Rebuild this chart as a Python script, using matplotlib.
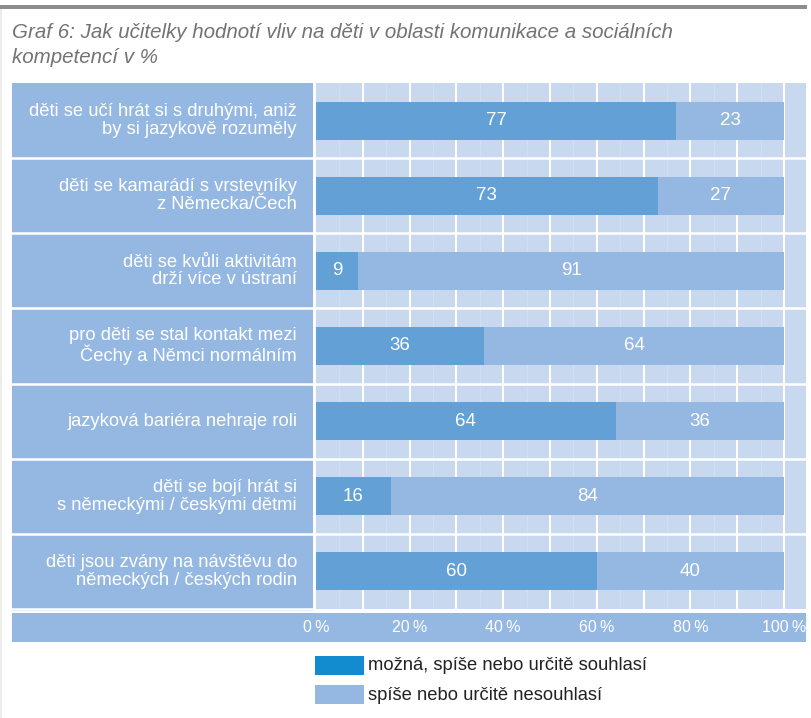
import matplotlib
matplotlib.use('Agg')
import matplotlib.pyplot as plt
import matplotlib.patches as patches
from matplotlib.transforms import blended_transform_factory
import numpy as np

plt.rcParams['font.family'] = ['Liberation Sans', 'DejaVu Sans']

title = ('Graf 6: Jak učitelky hodnotí vliv na děti v oblasti komunikace a sociálních\n'
         'kompetencí v %')
categories = [
    'děti se učí hrát si s druhými, aniž\nby si jazykově rozuměly',
    'děti se kamarádí s vrstevníky\nz Německa/Čech',
    'děti se kvůli aktivitám\ndrží více v ústraní',
    'pro děti se stal kontakt mezi\nČechy a Němci normálním',
    'jazyková bariéra nehraje roli',
    'děti se bojí hrát si\ns německými / českými dětmi',
    'děti jsou zvány na návštěvu do\nněmeckých / českých rodin',
]
agree = [77, 73, 9, 36, 64, 16, 60]
disagree = [23, 27, 91, 64, 36, 84, 40]
ticks = [0, 20, 40, 60, 80, 100]
tick_labels = ['0\u2009%', '20\u2009%', '40\u2009%', '60\u2009%', '80\u2009%', '100\u2009%']
legend_labels = ['možná, spíše nebo určitě souhlasí', 'spíše nebo určitě nesouhlasí']

DARK = '#62a0d6'
LIGHT = '#95b8e3'
BG = '#c8d8ef'
LEG_DARK = '#128bcf'

W, H = 812, 718
fig = plt.figure(figsize=(W / 100, H / 100), dpi=100)


def box(x0, y0, x1, y1):
    # pixel box (top-left origin) -> figure fraction rect
    return [x0 / W, 1 - y1 / H, (x1 - x0) / W, (y1 - y0) / H]


def fig_rect(x0, y0, x1, y1, color, z=0):
    r = patches.Rectangle((x0 / W, 1 - y1 / H), (x1 - x0) / W, (y1 - y0) / H,
                          transform=fig.transFigure, color=color, zorder=z, lw=0)
    fig.add_artist(r)


# frame lines at top and left
fig_rect(0, 5.5, 807, 8.5, '#8c8c8c')
fig_rect(0, 9, 2.5, H, '#ececec')

fig.text(12 / W, 1 - 23 / H, title, ha='left', va='top', fontsize=14.8,
         style='italic', color='#737373', linespacing=1.4)

n = len(categories)
rows = np.arange(n) + 0.5
top_px, bot_px = 83, 609
px_per_row = (bot_px - top_px) / n

# bar area
ax = fig.add_axes(box(316, top_px, 806, bot_px))
ax.set_facecolor(BG)
x_right = (806 - 316) / 4.68
ax.set_xlim(0, x_right)
ax.set_ylim(n, 0)
for v in np.arange(5, 100, 10):
    ax.axvline(v, color='#d2dff2', lw=0.8, zorder=1)
for v in np.arange(10, 101, 10):
    ax.axvline(v, color='white', lw=1.5, zorder=1)
for r in range(1, n):
    ax.axhline(r, color='white', lw=1.8, zorder=2)

bh = 38 / px_per_row
ax.barh(rows, agree, height=bh, color=DARK, zorder=3, lw=0)
ax.barh(rows, disagree, left=agree, height=bh, color=LIGHT, zorder=3, lw=0)
for y, a, d in zip(rows, agree, disagree):
    ax.text(a / 2, y, str(a), ha='center', va='center', color='white', fontsize=13.5, zorder=4)
    ax.text(a + d / 2, y, str(d), ha='center', va='center', color='white', fontsize=13.5, zorder=4)
ax.set_xticks([])
ax.set_yticks([])
for s in ax.spines.values():
    s.set_visible(False)

# category label panel
axl = fig.add_axes(box(12, top_px, 313, 611))
axl.set_facecolor(LIGHT)
axl.set_xlim(0, 1)
axl.set_ylim(n + 2 / px_per_row, 0)
for r in range(1, n + 1):
    axl.axhline(r, color='white', lw=1.8)
for y, lab in zip(rows, categories):
    axl.text((297 - 12) / (313 - 12), y, lab, ha='right', va='center', color='white',
             fontsize=13.2, linespacing=1.05)
axl.set_xticks([])
axl.set_yticks([])
for s in axl.spines.values():
    s.set_visible(False)

# axis band with percent labels
fig_rect(12, 613, 806, 642, LIGHT)
tr = blended_transform_factory(ax.transData, fig.transFigure)
for t, lab in zip(ticks, tick_labels):
    ax.text(t, 1 - 628 / H, lab, transform=tr, ha='center', va='center', color='white',
            fontsize=11.5, clip_on=False)

# legend
for i, (lab, col) in enumerate(zip(legend_labels, [LEG_DARK, LIGHT])):
    y0 = 656 + i * 29
    fig_rect(315, y0, 364, y0 + 19, col)
    fig.text(368 / W, 1 - (y0 + 10) / H, lab, ha='left', va='center', fontsize=13.2,
             color='#222222')

fig.savefig('out.png', dpi=100)
